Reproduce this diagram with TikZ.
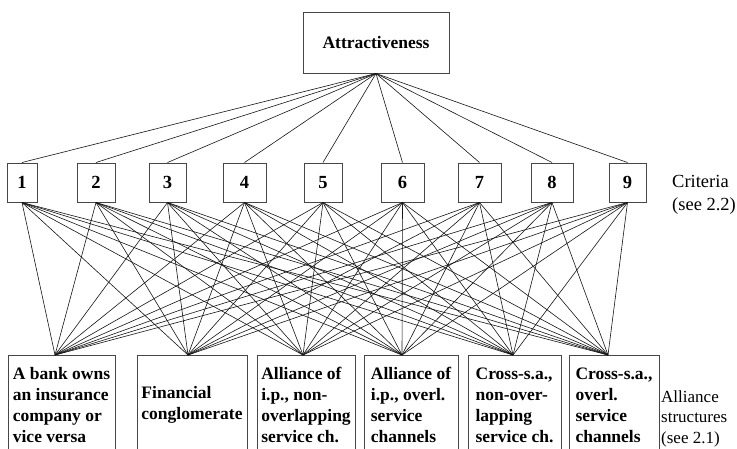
\documentclass[tikz,border=0pt]{standalone}
\usepackage{fontspec}
\setmainfont{Liberation Serif}
\usetikzlibrary{positioning}
\definecolor{ink}{RGB}{20,20,20}
\definecolor{frame}{RGB}{70,70,70}
\tikzset{
  goal/.style={draw=frame,line width=1pt,minimum width=146pt,minimum height=61pt,
    font=\bfseries\fontsize{17.5}{21}\selectfont},
  crit/.style={draw=frame,line width=1pt,minimum height=39pt,inner sep=0pt,
    font=\bfseries\fontsize{18.5}{21}\selectfont},
  alt/.style={draw=frame,line width=1pt,anchor=north,align=left,minimum height=99pt,
    inner sep=0pt,font=\bfseries\fontsize{17.5}{21}\selectfont},
  note/.style={align=left,inner sep=0pt,font=\fontsize{17}{20.5}\selectfont},
  link/.style={ink,line width=0.6pt},
}

\begin{document}
\begin{tikzpicture}[x=1pt,y=-1pt]
\useasboundingbox (0,0) rectangle (737,448);
\clip (0,0) rectangle (737,448);
\node[goal] (top) at (376,42.5) {Attractiveness};
% criteria
\foreach \n/\x/\w in {1/22/30,2/96/38,3/167.5/37,4/244.5/43,5/323/38,
    6/402.5/43,7/479.5/43,8/552/42,9/627.5/37}{
  \node[crit,minimum width=\w pt] (c\n) at (\x,182.5) {\n};}
% alliance structures
\foreach \s/\x/\w/\lab in {A/61.5/107/{A bank owns\\an insurance\\company or\\vice versa},
    B/192/110/{Financial\\conglomerate},
    C/306/98/{Alliance of\\i.p., non-\\overlapping\\service ch.},
    D/411/94/{Alliance of\\i.p., overl.\\service\\channels},
    E/514.5/93/{Cross-s.a.,\\non-over-\\lapping\\service ch.},
    F/614/90/{Cross-s.a.,\\overl.\\service\\channels}}{
  \node[alt,minimum width=\w pt] (s\s) at (\x,355) {\lab};}
\foreach \n in {1,...,9}{
  \draw[link] (top.south) -- (c\n.north);
  \foreach \s/\d in {A/-6.5,B/-4,C/-3,D/-9,E/-1.5,F/-6}{
    \draw[link] (c\n.south) -- ([xshift=\d pt]s\s.north);}}
\node[note,anchor=north west,font=\fontsize{18.5}{23}\selectfont] (critnote)
  at (672,175) {Criteria\\(see 2.2)};
\node[note,anchor=north west] (altnote) at (661,390) {Alliance\\structures\\(see 2.1)};
\end{tikzpicture}
\end{document}
